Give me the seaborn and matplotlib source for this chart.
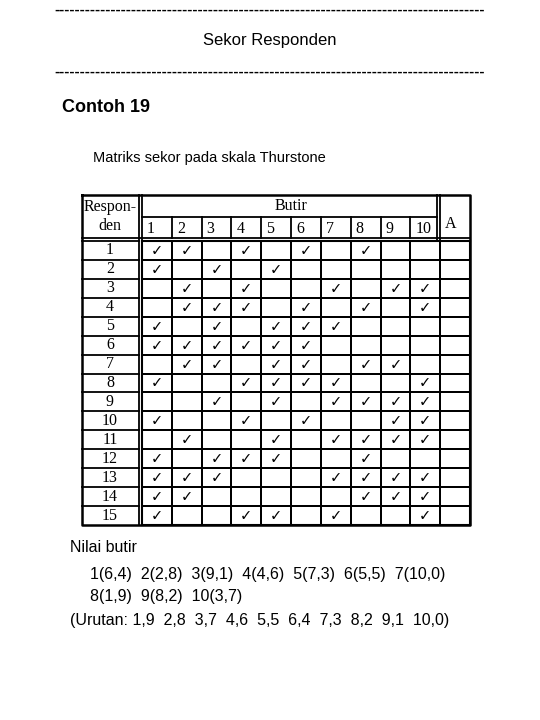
import numpy as np
import pandas as pd
import matplotlib
matplotlib.use("Agg")
import matplotlib.pyplot as plt
import seaborn as sns

# Responses: butir checked by each responden
responden = list(range(1, 16))
butir = [str(i) for i in range(1, 11)] + ["A"]
checked = [
    [1, 2, 4, 6, 8],
    [1, 3, 5],
    [2, 4, 7, 9, 10],
    [2, 3, 4, 6, 8, 10],
    [1, 3, 5, 6, 7],
    [1, 2, 3, 4, 5, 6],
    [2, 3, 5, 6, 8, 9],
    [1, 4, 5, 6, 7, 10],
    [3, 5, 7, 8, 9, 10],
    [1, 4, 6, 9, 10],
    [2, 5, 7, 8, 9, 10],
    [1, 3, 4, 5, 8],
    [1, 2, 3, 7, 8, 9, 10],
    [1, 2, 8, 9, 10],
    [1, 4, 5, 7, 10],
]
nilai_lines = [
    "1(6,4)  2(2,8)  3(9,1)  4(4,6)  5(7,3)  6(5,5)  7(10,0)",
    "8(1,9)  9(8,2)  10(3,7)",
]
urutan = "(Urutan: 1,9  2,8  3,7  4,6  5,5  6,4  7,3  8,2  9,1  10,0)"

mat = np.zeros((len(responden), len(butir)))
for r, items in enumerate(checked):
    for b in items:
        mat[r, b - 1] = 1
df = pd.DataFrame(mat, index=responden, columns=butir)
annot = np.where(mat == 1, "\u2713", "")

W, H = 540, 720
fig = plt.figure(figsize=(W / 100, H / 100), dpi=100)

# overlay axes in pixel coords
bg = fig.add_axes([0, 0, 1, 1])
bg.set_xlim(0, W)
bg.set_ylim(H, 0)
bg.axis("off")

sans = "Liberation Sans"
serif = "Liberation Serif"
dash = "-" * 84
bg.text(270, 10, dash, ha="center", va="center", fontsize=11, family=sans, fontweight="bold")
bg.text(270, 40, "Sekor Responden", ha="center", va="center", fontsize=12, family=sans)
bg.text(270, 72, dash, ha="center", va="center", fontsize=11, family=sans, fontweight="bold")
bg.text(62, 108, "Contoh 19", ha="left", va="center", fontsize=13, family=sans, fontweight="bold")
bg.text(93, 158, "Matriks sekor pada skala Thurstone", ha="left", va="center", fontsize=10.5, family=sans)

# table body via seaborn heatmap
x0, x1, y0, y1 = 142, 470, 241, 525
ax = fig.add_axes([x0 / W, 1 - y1 / H, (x1 - x0) / W, (y1 - y0) / H])
sns.heatmap(df, ax=ax, cmap=["white", "white"], cbar=False, annot=annot, fmt="",
            linewidths=1.2, linecolor="black",
            annot_kws={"fontsize": 10.5, "color": "black", "family": "DejaVu Sans"})
ax.set_xticks([])
ax.set_yticks([])
for s in ax.spines.values():
    s.set_visible(True)
    s.set_linewidth(1.5)

# header and row label column
cw = (x1 - x0) / len(butir)
rh = (y1 - y0) / len(responden)
lw = 1.3
fs = 11.5
top = 195
bg.plot([82, x1, x1, 82, 82], [top, top, y1, y1, top], color="black", lw=1.8)
bg.plot([139, 139], [top, y1], color="black", lw=lw)
bg.plot([x0, x0], [top, y1], color="black", lw=lw)
bg.plot([x0 + 10 * cw - 3, x0 + 10 * cw - 3], [top, y1], color="black", lw=lw)
bg.plot([x0 + 10 * cw, x0 + 10 * cw], [top, y1], color="black", lw=lw)
bg.plot([x0, x0 + 10 * cw - 3], [217, 217], color="black", lw=lw)
bg.plot([82, x1], [y0 - 3, y0 - 3], color="black", lw=lw)
for i in range(1, 10):
    bg.plot([x0 + i * cw, x0 + i * cw], [217, y0 - 3], color="black", lw=lw)
bg.text(110, 207, "Respon-", ha="center", va="center", fontsize=fs, family=serif)
bg.text(110, 226, "den", ha="center", va="center", fontsize=fs, family=serif)
bg.text(x0 + 5 * cw, 206, "Butir", ha="center", va="center", fontsize=fs, family=serif)
for i in range(10):
    bg.text(x0 + i * cw + 5, 229, butir[i], ha="left", va="center", fontsize=fs, family=serif)
bg.text(x0 + 10 * cw + 5, 224, "A", ha="left", va="center", fontsize=fs, family=serif)
for i, r in enumerate(responden):
    yy = y0 + i * rh
    bg.plot([82, 139], [yy, yy], color="black", lw=lw)
    bg.text(110, yy + rh / 2, str(r), ha="center", va="center", fontsize=fs, family=serif)

# bottom text
bg.text(70, 548, "Nilai butir", ha="left", va="center", fontsize=11.5, family=sans)
bg.text(90, 575, nilai_lines[0], ha="left", va="center", fontsize=11.5, family=sans)
bg.text(90, 597, nilai_lines[1], ha="left", va="center", fontsize=11.5, family=sans)
bg.text(70, 620, urutan, ha="left", va="center", fontsize=11.5, family=sans)

fig.savefig("out.png", dpi=100)
